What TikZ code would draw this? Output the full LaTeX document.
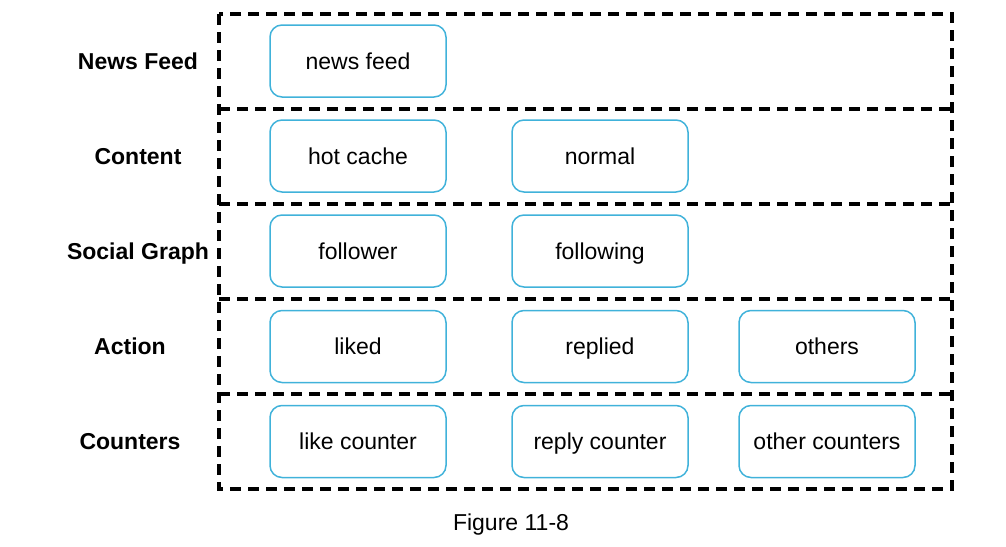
\documentclass[tikz,border=0pt]{standalone}
\usepackage{fontspec}
\setmainfont{Liberation Sans}
\definecolor{boxblue}{RGB}{64,178,218}
\begin{document}
\begin{tikzpicture}[x=1pt,y=-1pt,
  lane/.style={draw=black,line width=3.2pt,dash pattern=on 11pt off 7pt},
  cell/.style={draw=boxblue,line width=1.5pt,rounded corners=12pt,minimum width=176pt,minimum height=72pt,inner sep=0pt,text height=16pt,text depth=0pt,font=\fontsize{23}{27}\selectfont},
  lbl/.style={text height=16pt,text depth=0pt,font=\fontsize{23}{27}\selectfont\bfseries},
  figcaption/.style={text height=16pt,text depth=0pt,font=\fontsize{23}{27}\selectfont}]
\useasboundingbox (0,0) rectangle (1006,546);
\coordinate (tl) at (219,14);
\coordinate (br) at (952,489);
\draw[lane] (tl) rectangle (br);
\foreach \yy in {109,204,299,394}{
  \draw[lane] (219,\yy) -- (952,\yy);
}
\node[lbl] (l1) at (138,61) {News Feed};
\node[lbl] (l2) at (138,156) {Content};
\node[lbl] (l3) at (138,251) {Social Graph};
\node[lbl] (l4) at (130,346) {Action};
\node[lbl] (l5) at (130,441) {Counters};
\node[cell] (nf) at (358,61) {news feed};
\node[cell] (hc) at (358,156) {hot cache};
\node[cell] (nm) at (600,156) {normal};
\node[cell] (fr) at (358,251) {follower};
\node[cell] (fg) at (600,251) {following};
\node[cell] (lk) at (358,346.5) {liked};
\node[cell] (rp) at (600,346.5) {replied};
\node[cell] (ot) at (827,346.5) {others};
\node[cell] (lc) at (358,441.5) {like counter};
\node[cell] (rc) at (600,441.5) {reply counter};
\node[cell] (oc) at (827,441.5) {other counters};
\node[figcaption] (fig) at (511,522) {Figure 11-8};
\end{tikzpicture}
\end{document}
